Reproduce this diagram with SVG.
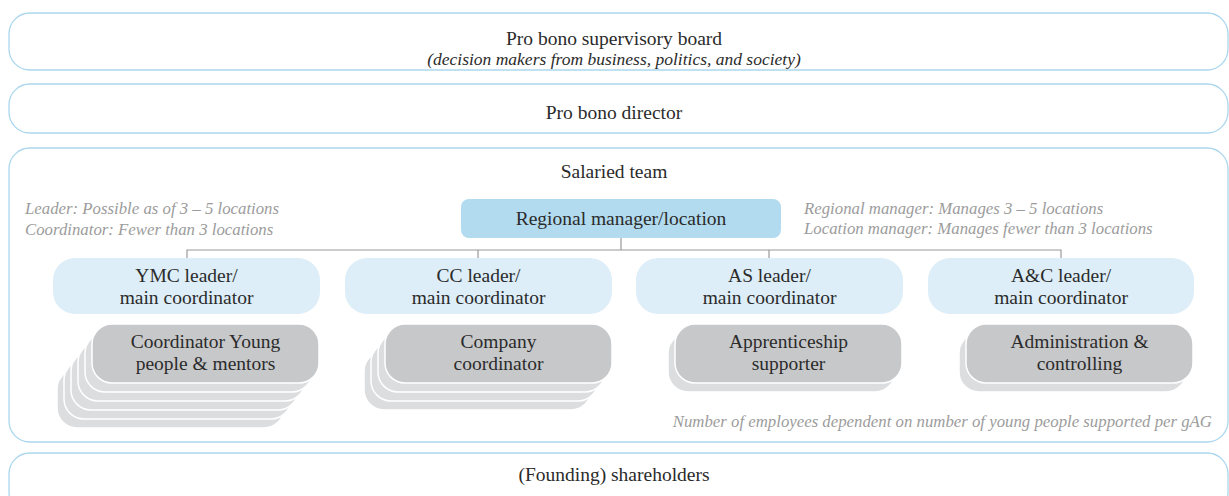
<svg xmlns="http://www.w3.org/2000/svg" width="1229" height="496" viewBox="0 0 1229 496">
  <style>
    .band { fill: #ffffff; stroke: #aad7ee; stroke-width: 1.3; }
    .region { fill: #b2dbef; }
    .lead { fill: #ddeef8; }
    .staff { fill: #c7c8ca; stroke: #ffffff; stroke-width: 1.5; }
    .staff-back { fill: #dcdddf; stroke: #ffffff; stroke-width: 1.5; }
    .wire { fill: none; stroke: #9a9a9a; stroke-width: 1.2; }
    .t { font-family: "Liberation Serif", "Times New Roman", serif; font-size: 19.5px; fill: #2b2b2b; text-anchor: middle; }
    .ti { font-family: "Liberation Serif", "Times New Roman", serif; font-size: 17.5px; font-style: italic; fill: #2b2b2b; text-anchor: middle; }
    .note { font-family: "Liberation Serif", "Times New Roman", serif; font-size: 16.8px; font-style: italic; fill: #9c9c9c; }
  </style>

  <!-- governance bands -->
  <g id="supervisory-board">
    <rect class="band" x="9" y="13" width="1219" height="57" rx="21"/>
    <text class="t" x="614" y="45">Pro bono supervisory board</text>
    <text class="ti" x="614" y="65">(decision makers from business, politics, and society)</text>
  </g>

  <g id="director">
    <rect class="band" x="9" y="84" width="1219" height="49" rx="21"/>
    <text class="t" x="614" y="119">Pro bono director</text>
  </g>

  <g id="salaried-team">
    <rect class="band" x="9" y="148" width="1219" height="294" rx="21"/>
    <text class="t" x="614" y="178">Salaried team</text>
    <text class="note" x="25" y="214">Leader: Possible as of 3 – 5 locations</text>
    <text class="note" x="25" y="235">Coordinator: Fewer than 3 locations</text>
    <text class="note" x="804" y="214">Regional manager: Manages 3 – 5 locations</text>
    <text class="note" x="804" y="234">Location manager: Manages fewer than 3 locations</text>
    <text class="note" x="1212" y="427" text-anchor="end">Number of employees dependent on number of young people supported per gAG</text>
  </g>

  <g id="shareholders">
    <rect class="band" x="9" y="453" width="1219" height="60" rx="21"/>
    <text class="t" x="614" y="481">(Founding) shareholders</text>
  </g>

  <!-- reporting lines -->
  <g id="connectors">
    <path class="wire" d="M621 238 V250 M187 258 V250 H1061 V258 M478 250 V258 M769 250 V258"/>
  </g>

  <g id="regional-manager">
    <rect class="region" x="461" y="199" width="320" height="39" rx="8"/>
    <text class="t" x="621" y="225">Regional manager/location</text>
  </g>

  <g id="ymc-leader">
    <rect class="lead" x="53" y="258" width="267" height="56" rx="22"/>
    <text class="t" x="186.5" y="282">YMC leader/</text>
    <text class="t" x="186.5" y="304">main coordinator</text>
  </g>
  <g id="cc-leader">
    <rect class="lead" x="345" y="258" width="267" height="56" rx="22"/>
    <text class="t" x="478.5" y="282">CC leader/</text>
    <text class="t" x="478.5" y="304">main coordinator</text>
  </g>
  <g id="as-leader">
    <rect class="lead" x="636" y="258" width="267" height="56" rx="22"/>
    <text class="t" x="769.5" y="282">AS leader/</text>
    <text class="t" x="769.5" y="304">main coordinator</text>
  </g>
  <g id="ac-leader">
    <rect class="lead" x="928" y="258" width="266" height="56" rx="22"/>
    <text class="t" x="1061" y="282">A&amp;C leader/</text>
    <text class="t" x="1061" y="304">main coordinator</text>
  </g>

  <!-- staff stacks: back copies drawn first, offset down-left -->
  <g id="ymc-staff">
    <rect class="staff-back" x="57" y="369" width="227" height="59" rx="20"/>
    <rect class="staff-back" x="64" y="360" width="227" height="59" rx="20"/>
    <rect class="staff-back" x="71" y="351" width="227" height="59" rx="20"/>
    <rect class="staff-back" x="78" y="342" width="227" height="59" rx="20"/>
    <rect class="staff-back" x="85" y="333" width="227" height="59" rx="20"/>
    <rect class="staff" x="92" y="324" width="227" height="59" rx="20"/>
    <text class="t" x="205.5" y="348">Coordinator Young</text>
    <text class="t" x="205.5" y="370">people &amp; mentors</text>
  </g>
  <g id="cc-staff">
    <rect class="staff-back" x="364" y="351" width="227" height="59" rx="20"/>
    <rect class="staff-back" x="371" y="342" width="227" height="59" rx="20"/>
    <rect class="staff-back" x="378" y="333" width="227" height="59" rx="20"/>
    <rect class="staff" x="385" y="324" width="227" height="59" rx="20"/>
    <text class="t" x="498.5" y="348">Company</text>
    <text class="t" x="498.5" y="370">coordinator</text>
  </g>
  <g id="as-staff">
    <rect class="staff-back" x="668" y="333" width="227" height="59" rx="20"/>
    <rect class="staff" x="675" y="324" width="227" height="59" rx="20"/>
    <text class="t" x="788.5" y="348">Apprenticeship</text>
    <text class="t" x="788.5" y="370">supporter</text>
  </g>
  <g id="ac-staff">
    <rect class="staff-back" x="959" y="333" width="227" height="59" rx="20"/>
    <rect class="staff" x="966" y="324" width="227" height="59" rx="20"/>
    <text class="t" x="1079.5" y="348">Administration &amp;</text>
    <text class="t" x="1079.5" y="370">controlling</text>
  </g>
</svg>
